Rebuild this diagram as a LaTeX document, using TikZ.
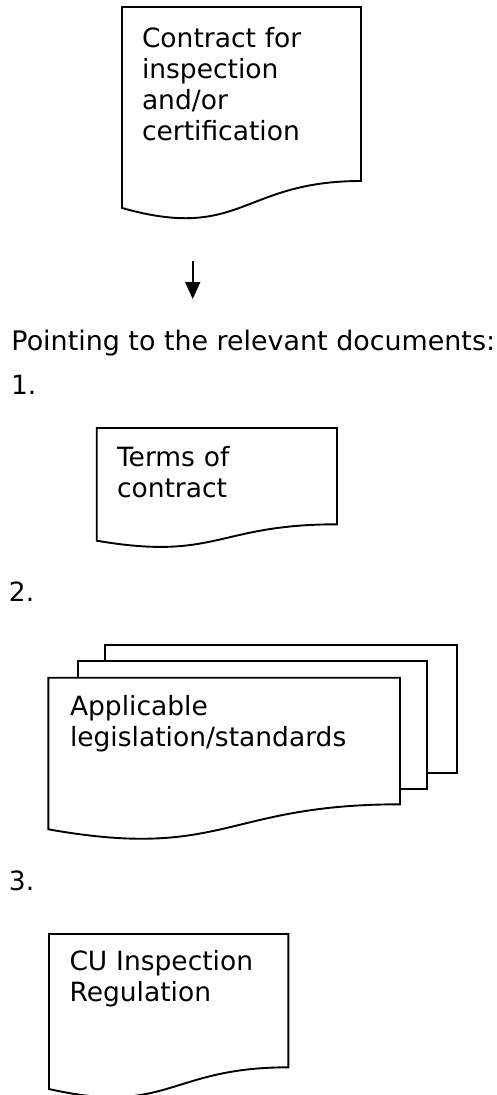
\documentclass[tikz,border=0pt]{standalone}
\usepackage{fontspec}
\setmainfont{DejaVu Sans}
\usetikzlibrary{arrows.meta}
% document shape: x0, y0 (top), x1, yR (right bottom), yL (left bottom)
\newcommand\docshape[5]{%
  \draw[docline] (#1,#2) -- (#3,#2) -- (#3,#4)
    .. controls ({(#1+#3)/2},#4) and ({(#1+#3)/2},{#5+1.25*(#5-#4)}) .. (#1,#5) -- cycle;}
\begin{document}
\begin{tikzpicture}[x=1pt,y=-1pt,
  docline/.style={draw=black,line width=1.9pt,fill=white,line join=miter},
  doctext/.style={anchor=base west,inner sep=0pt,outer sep=0pt,text width=330pt,align=left,
    font=\fontsize{26.5}{31}\selectfont},
  plain/.style={anchor=base west,inner sep=0pt,outer sep=0pt,font=\fontsize{26.5}{31}\selectfont},
  flow/.style={line width=1.9pt,-{Triangle[width=15pt,length=17pt]}}]
\useasboundingbox (0,0) rectangle (497,1095);
% 1: contract
\docshape{122}{7}{361}{181}{208}
\node[doctext] (contract) at (142,47) {Contract for\\inspection\\and/or\\certification};
% arrow
\coordinate (arrS) at (192.7,261);
\coordinate (arrE) at (192.7,299);
\draw[flow] (arrS) -- (arrE);
% headings
\node[plain,font=\fontsize{26.9}{31}\selectfont] (pointing) at (11.5,350.7) {Pointing to the relevant documents:};
\node[plain] (n1) at (11,394) {1.};
% terms
\docshape{96.7}{428}{337}{524.3}{540.7}
\node[doctext] (terms) at (117,466.7) {Terms of\\contract};
\node[plain] (n2) at (9,601.7) {2.};
% stacked sheets
\draw[docline] (105,645) rectangle (456.7,772.7);
\draw[docline] (77.7,661) rectangle (426.7,789.3);
\docshape{48.3}{677.7}{400}{804.3}{829.3}
\node[doctext] (legis) at (70,715) {Applicable\\legislation/standards};
\node[plain] (n3) at (9,890) {3.};
% CU regulation
\docshape{49}{934}{288.3}{1067.3}{1089}
\node[doctext] (cu) at (69.5,970) {CU Inspection\\Regulation};
\end{tikzpicture}
\end{document}
